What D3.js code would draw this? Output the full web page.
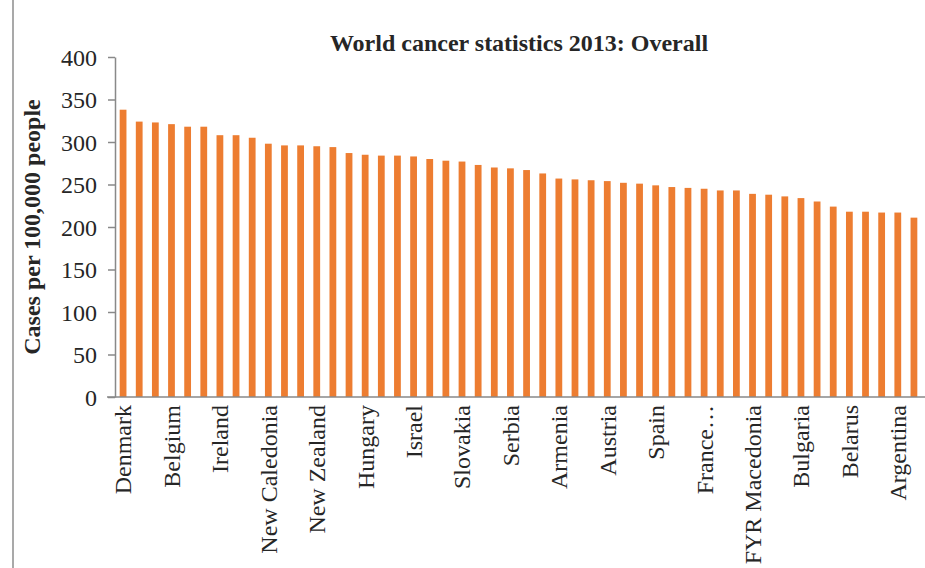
<!DOCTYPE html>
<meta charset="utf-8">
<style>
body { margin: 0; background: #fff; }
text { font-family: "Liberation Serif", "Times New Roman", serif; fill: #262626; }
.title { font-weight: bold; font-size: 24px; }
.ytitle { font-weight: bold; font-size: 24px; }
.axis text { font-size: 24px; fill: #262626; }
.axis path, .axis line { stroke: #898989; stroke-width: 1.5; }
</style>
<svg width="925" height="568"></svg>
<script src="https://d3js.org/d3.v7.min.js"></script>
<script>

// countries, sorted by overall rate (only every third one is labelled)
var countries = ["Denmark","France (metropolitan)","Australia","Belgium","Norway","United States","Ireland","South Korea","Netherlands","New Caledonia",
  "Canada","Czech Republic","New Zealand","Iceland","Germany","Hungary","Slovenia","United Kingdom","Israel","Italy",
  "Luxembourg","Slovakia","Latvia","Sweden","Serbia","Finland","Lithuania","Armenia","Croatia","Montenegro",
  "Austria","Estonia","Uruguay","Spain","Japan","Portugal","France, La Réunion","Poland","Puerto Rico","FYR Macedonia",
  "Barbados","Singapore","Bulgaria","Greece","Cuba","Belarus","Malta","Romania","Argentina","Bosnia Herzegovina"];

// cases per 100,000 people
var rates = [338, 324, 323, 321, 318, 318, 308, 308, 305, 298,
  296, 296, 295, 294, 287, 285, 284, 284, 283, 280,
  278, 277, 273, 270, 269, 267, 263, 257, 256, 255,
  254, 252, 251, 249, 247, 246, 245, 243, 243, 239,
  238, 236, 234, 230, 224, 218, 218, 217, 217, 211];

var yTicks = [0, 50, 100, 150, 200, 250, 300, 350, 400];

var svg = d3.select("svg");
var plotLeft = 115, plotRight = 922, plotTop = 57, plotBottom = 397;

var x = d3.scaleBand()
  .domain(countries)
  .range([plotLeft, plotRight])
  .paddingInner(0.58)
  .paddingOuter(0.29);

var y = d3.scaleLinear()
  .domain([0, 400])
  .range([plotBottom, plotTop]);

// frame edge on the left
svg.append("line")
  .attr("x1", 13).attr("x2", 13)
  .attr("y1", 0).attr("y2", 568)
  .attr("stroke", "#8c8c8c").attr("stroke-width", 1.5);

svg.selectAll("rect.bar")
  .data(rates)
  .enter().append("rect")
  .attr("class", "bar")
  .attr("x", function(d, i) { return x(countries[i]); })
  .attr("width", x.bandwidth())
  .attr("y", function(d) { return y(d); })
  .attr("height", function(d) { return plotBottom - y(d); })
  .attr("fill", "#ED7D31");

// y axis
var yAxis = svg.append("g")
  .attr("class", "axis")
  .attr("transform", "translate(" + plotLeft + ",0)")
  .call(d3.axisLeft(y).tickValues(yTicks).tickSize(7).tickPadding(11).tickSizeOuter(0));
yAxis.selectAll("text").attr("dy", "0.35em");

// x axis, label every third country
var xAxis = svg.append("g")
  .attr("class", "axis")
  .attr("transform", "translate(0," + plotBottom + ")")
  .call(d3.axisBottom(x)
    .tickValues(countries.filter(function(d, i) { return i % 3 == 0; }))
    .tickSize(0)
    .tickFormat(function(d) { return d.length > 15 ? d.split(",")[0] + "\u2026" : d; }));
xAxis.select(".domain").attr("d", "M107,0H925");
xAxis.selectAll("text")
  .attr("transform", "rotate(-90)")
  .attr("text-anchor", "end")
  .attr("x", -8)
  .attr("y", 0)
  .attr("dy", "0.35em");

svg.append("text")
  .attr("class", "title")
  .attr("x", 519)
  .attr("y", 51)
  .attr("text-anchor", "middle")
  .text("World cancer statistics 2013: Overall");

svg.append("text")
  .attr("class", "ytitle")
  .attr("transform", "translate(40," + 227 + ") rotate(-90)")
  .attr("text-anchor", "middle")
  .text("Cases per 100,000 people");

</script>
